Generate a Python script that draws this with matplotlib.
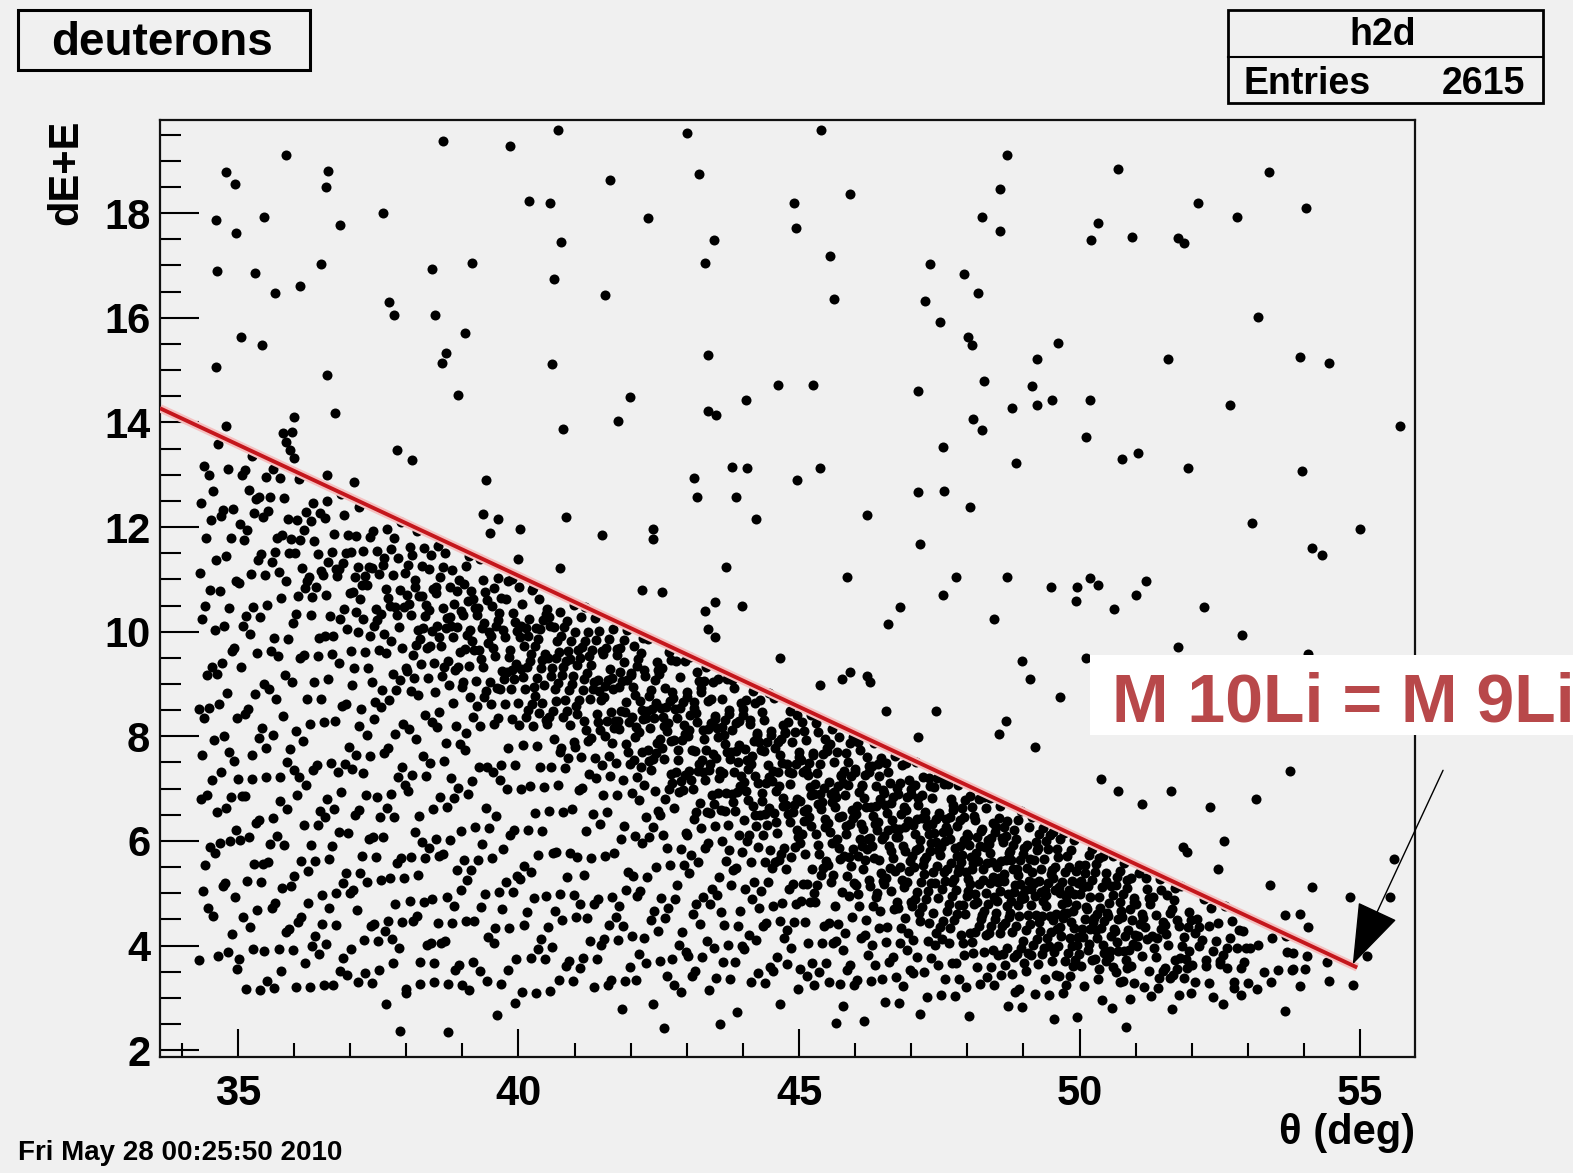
import numpy as np
import matplotlib
matplotlib.use("Agg")
import matplotlib.pyplot as plt
from matplotlib.patches import Rectangle
from matplotlib.lines import Line2D
from matplotlib.ticker import MultipleLocator

plt.rcParams['font.family'] = ['Liberation Sans', 'DejaVu Sans']
plt.rcParams['font.weight'] = 'bold'

# ---------------- data ----------------
# isolated events (theta [deg], dE+E)
sparse_x = [38.66, 35.85, 34.78, 34.95, 36.60, 36.56, 37.59, 34.60, 35.46, 36.81, 34.96, 34.63, 35.31,
            36.48, 38.45, 39.18, 35.66, 36.10, 37.70, 37.78, 38.52, 39.05, 35.06, 35.42, 38.70, 38.63,
            34.60, 36.59, 38.92, 35.99, 36.73,
            35.81, 35.96, 35.85, 35.92, 35.99, 34.78, 37.83, 38.10, 36.58, 37.06,
            40.70, 39.85, 43.01, 41.63, 43.21, 40.19, 40.56, 42.30, 43.48, 40.76, 43.33, 40.63, 41.55,
            43.37, 40.60, 44.63, 41.98, 44.06, 43.37, 43.52, 41.77, 40.80,
            45.40, 48.70, 45.91, 48.58, 44.91, 44.95, 48.26, 48.58, 50.33, 50.21, 45.56, 47.33, 47.94,
            48.19, 45.62, 47.25, 47.51, 48.02, 48.08, 49.62, 49.25, 45.25, 47.12, 48.30, 49.16, 49.51,
            49.25, 50.19, 48.80, 48.11, 48.27,
            50.69, 53.37, 52.12, 54.04, 52.80, 50.94, 51.76, 51.86, 53.19, 51.57, 53.93, 54.44, 52.68, 55.71,
            39.42, 43.12, 43.80, 44.07, 43.19, 43.88, 39.37, 39.63, 40.85, 39.49, 40.03, 41.49, 42.39,
            42.39, 44.23, 43.69, 42.20, 42.55, 43.50, 43.98, 43.32, 40.74, 39.99, 43.38, 43.50, 44.66,
            47.57, 50.12, 45.37, 44.97, 48.87, 47.12, 47.58, 48.05, 46.22, 47.16, 45.86, 47.79, 48.70,
            47.57, 49.50, 49.96, 50.19, 50.33, 49.93, 46.80, 46.58, 48.48, 48.97, 49.12, 50.12, 49.65,
            45.76, 45.91, 46.22, 46.27, 45.37, 46.55, 47.44, 48.69, 48.57, 47.12, 49.21,
            50.75, 51.05, 51.94, 53.97, 53.07, 55.00, 54.14, 54.33, 51.18, 51.00, 50.62, 52.22, 52.90,
            51.76, 54.07,
            53.75, 50.69, 51.63, 51.12, 52.33, 53.15, 52.58, 51.85, 51.91, 55.61, 52.47, 53.40, 54.14,
            54.82, 55.53, 53.66, 53.93, 54.08, 53.69, 54.05, 54.41, 55.12, 54.44, 54.88, 54.02, 53.81,
            50.39]
sparse_y = [19.38, 19.12, 18.78, 18.55, 18.81, 18.50, 18.01, 17.86, 17.93, 17.78, 17.62, 16.90, 16.86,
            17.02, 16.94, 17.05, 16.48, 16.60, 16.30, 16.06, 16.06, 15.71, 15.63, 15.48, 15.33, 15.14,
            15.06, 14.91, 14.52, 14.11, 14.18,
            13.79, 13.82, 13.62, 13.47, 13.31, 13.93, 13.47, 13.28, 12.99, 12.86,
            19.59, 19.28, 19.54, 18.63, 18.75, 18.24, 18.20, 17.90, 17.48, 17.44, 17.05, 16.74, 16.44,
            15.29, 15.11, 14.72, 14.49, 14.42, 14.22, 14.14, 14.03, 13.88,
            19.59, 19.12, 18.36, 18.47, 18.20, 17.71, 17.93, 17.66, 17.81, 17.48, 17.18, 17.02, 16.83,
            16.48, 16.36, 16.32, 15.91, 15.63, 15.47, 15.52, 15.21, 14.72, 14.60, 14.80, 14.69, 14.42,
            14.34, 14.42, 14.27, 14.07, 13.85,
            18.84, 18.78, 18.20, 18.09, 17.93, 17.55, 17.52, 17.43, 16.02, 15.21, 15.25, 15.14, 14.33, 13.93,
            12.89, 12.94, 13.15, 13.12, 12.58, 12.58, 12.24, 12.16, 12.20, 11.89, 11.97, 11.84, 11.96,
            11.77, 12.16, 11.24, 10.79, 10.75, 10.57, 10.50, 10.39, 11.21, 11.38, 10.06, 9.90, 9.49,
            13.53, 13.72, 13.12, 12.89, 13.23, 12.66, 12.69, 12.38, 12.23, 11.67, 11.05, 11.05, 11.05,
            10.70, 10.85, 10.85, 11.02, 10.90, 10.59, 10.47, 10.14, 10.25, 9.44, 9.09, 9.49, 8.75,
            9.10, 9.22, 9.15, 9.03, 8.99, 8.48, 8.49, 8.29, 8.05, 7.99, 7.80,
            13.30, 13.42, 13.12, 13.07, 12.08, 11.96, 11.59, 11.47, 10.97, 10.70, 10.44, 10.47, 9.93,
            9.71, 9.58,
            7.34, 6.95, 6.95, 6.70, 6.65, 6.81, 6.00, 5.88, 5.79, 5.66, 5.47, 5.15, 5.12,
            4.93, 4.93, 4.58, 4.61, 4.35, 3.88, 3.81, 3.68, 3.81, 3.33, 3.24, 3.56, 3.56,
            7.19]

# dense band: event counts per theta bin and per 0.5-deep band below the kinematic line
bin_x_edges = [34.3, 35, 36, 37, 38, 39, 40, 41, 42, 43, 44, 45, 46, 47, 48, 49, 50, 51, 52, 53, 54]
bin_counts = [
    [1, 3, 4, 3, 3, 3, 3, 4, 3, 3, 4, 4, 3, 3, 4, 3, 3, 3, 3, 2, 2, 0],
    [5, 7, 7, 6, 5, 5, 5, 5, 4, 4, 5, 5, 4, 5, 5, 5, 4, 5, 4, 4, 3, 0],
    [5, 7, 9, 9, 8, 6, 4, 4, 4, 4, 5, 5, 5, 5, 5, 5, 5, 5, 5, 3, 0],
    [5, 8, 11, 11, 9, 7, 6, 6, 5, 5, 5, 5, 5, 5, 5, 5, 5, 5, 3, 1],
    [7, 11, 13, 13, 11, 8, 6, 5, 5, 5, 5, 5, 5, 5, 5, 6, 5, 3, 1],
    [8, 13, 14, 14, 11, 8, 5, 5, 4, 4, 5, 5, 5, 5, 4, 4, 3, 1],
    [9, 15, 16, 15, 12, 9, 6, 4, 4, 4, 4, 5, 5, 5, 5, 3, 0],
    [10, 16, 16, 15, 12, 9, 6, 4, 4, 4, 5, 6, 6, 5, 3],
    [10, 15, 17, 16, 14, 10, 7, 6, 5, 5, 6, 6, 5, 3, 1],
    [11, 16, 17, 16, 14, 11, 8, 7, 6, 6, 6, 6, 3, 1],
    [11, 16, 17, 16, 15, 12, 9, 7, 7, 6, 6, 3, 0],
    [12, 17, 18, 17, 15, 12, 9, 8, 7, 7, 4, 1],
    [13, 18, 19, 18, 16, 13, 10, 8, 7, 4, 1],
    [14, 19, 21, 20, 17, 14, 10, 8, 4, 1],
    [14, 20, 22, 21, 18, 14, 9, 5, 1],
    [14, 20, 22, 21, 18, 12, 5, 1],
    [13, 19, 20, 19, 13, 5, 1],
    [11, 15, 15, 13, 5, 0],
    [8, 12, 11, 5, 0],
    [4, 5, 3],
]

# red line drawn on the plot (M 10Li = M 9Li kinematics)
line_x = [33.61, 54.95]
line_y = [14.27, 3.58]

x_ticks = [35, 40, 45, 50, 55]
y_ticks = [2, 4, 6, 8, 10, 12, 14, 16, 18]
entries = 2615

# ---------------- figure ----------------
W, H = 1573, 1173
BG = '#f0f0f0'
fig = plt.figure(figsize=(W / 100, H / 100), dpi=100, facecolor=BG)


def fx(px):
    return px / W


def fy(py):
    return 1 - py / H


ax = fig.add_axes([fx(160), fy(1057), fx(1415) - fx(160), fy(120) - fy(1057)])
ax.set_facecolor(BG)
ax.set_xlim(33.61, 55.98)
ax.set_ylim(1.87, 19.78)

slope = (line_y[1] - line_y[0]) / (line_x[1] - line_x[0])


def kin_line(x):
    return line_y[0] + slope * (x - line_x[0])


def radical_inverse(i, base):
    f, r = 1.0, 0.0
    while i > 0:
        f /= base
        r += f * (i % base)
        i //= base
    return r


# ROOT "SCAT"-style drawing of the binned counts (deterministic Halton placement inside each bin)
dx, dy = [], []
g = 1
for j, counts in enumerate(bin_counts):
    x0, x1 = bin_x_edges[j], bin_x_edges[j + 1]
    for band, n in enumerate(counts):
        for k in range(n):
            u = radical_inverse(g, 2)
            v = radical_inverse(g, 3)
            g += 1
            xx = x0 + u * (x1 - x0)
            dx.append(xx)
            dy.append(kin_line(xx) - 0.5 * (band + v))

MS = 52
ax.scatter(dx, dy, s=MS, c='black', marker='o', linewidths=0, zorder=2)
ax.scatter(sparse_x, sparse_y, s=MS, c='black', marker='o', linewidths=0, zorder=2)

ax.plot(line_x, line_y, color='#f5c0c0', lw=6, solid_capstyle='butt', zorder=3)
ax.plot(line_x, line_y, color='#c4161c', lw=2.8, solid_capstyle='butt', zorder=4)

ax.set_xticks(x_ticks)
ax.set_yticks(y_ticks)
ax.xaxis.set_minor_locator(MultipleLocator(1))
ax.yaxis.set_minor_locator(MultipleLocator(0.5))
ax.tick_params(which='both', direction='in', top=False, right=False, width=1.5, colors='black')
ax.tick_params(axis='x', which='major', length=20, pad=12, labelsize=30)
ax.tick_params(axis='x', which='minor', length=10)
ax.tick_params(axis='y', which='major', length=28, pad=7, labelsize=30)
ax.tick_params(axis='y', which='minor', length=15)
for lab in ax.get_xticklabels() + ax.get_yticklabels():
    lab.set_fontweight('bold')
for sp in ax.spines.values():
    sp.set_linewidth(1.6)
    sp.set_color('#111111')

# axis titles
fig.text(fx(1415), fy(1133), 'θ (deg)', ha='right', va='center', fontsize=30, fontweight='bold')
fig.text(fx(66), fy(120), 'dE+E', ha='center', va='top', rotation=90, fontsize=30, fontweight='bold')

# title box
fig.add_artist(Rectangle((fx(18), fy(70)), fx(310) - fx(18), fy(10) - fy(70), transform=fig.transFigure,
                         facecolor=BG, edgecolor='black', lw=2.2, zorder=5))
fig.text(fx(162), fy(43), 'deuterons', ha='center', va='center', fontsize=33, fontweight='bold', zorder=6)

# stats box
fig.add_artist(Rectangle((fx(1228), fy(103)), fx(1543) - fx(1228), fy(10) - fy(103), transform=fig.transFigure,
                         facecolor=BG, edgecolor='black', lw=2.0, zorder=5))
fig.add_artist(Line2D([fx(1228), fx(1543)], [fy(57), fy(57)], transform=fig.transFigure,
                      color='black', lw=1.5, zorder=6))
fig.text(fx(1383), fy(35), 'h2d', ha='center', va='center', fontsize=27, fontweight='bold', zorder=6)
fig.text(fx(1243), fy(84), 'Entries', ha='left', va='center', fontsize=27, fontweight='bold', zorder=6)
fig.text(fx(1525), fy(84), f'{entries}', ha='right', va='center', fontsize=27, fontweight='bold', zorder=6)

# date stamp
fig.text(fx(18), fy(1153), 'Fri May 28 00:25:50 2010', ha='left', va='center', fontsize=20, fontweight='bold')

# annotation box and arrow (the label runs past the right edge, as in the original)
fig.add_artist(Rectangle((fx(1090), fy(735)), fx(1573) - fx(1090), fy(655) - fy(735), transform=fig.transFigure,
                         facecolor='white', edgecolor='none', zorder=7))
fig.text(fx(1112), fy(703), 'M 10Li = M 9Li', ha='left', va='center', fontsize=49, fontweight='bold',
         color='#b8484a', zorder=8)
ax.annotate('', xy=(54.87, 3.64), xytext=(56.48, 7.35), textcoords='data', annotation_clip=False,
            arrowprops=dict(arrowstyle='-|>,head_length=4.0,head_width=1.4', color='black', lw=1.0,
                            mutation_scale=10, shrinkA=0, shrinkB=0), zorder=9)

fig.savefig('out.png', dpi=100, facecolor=BG)
